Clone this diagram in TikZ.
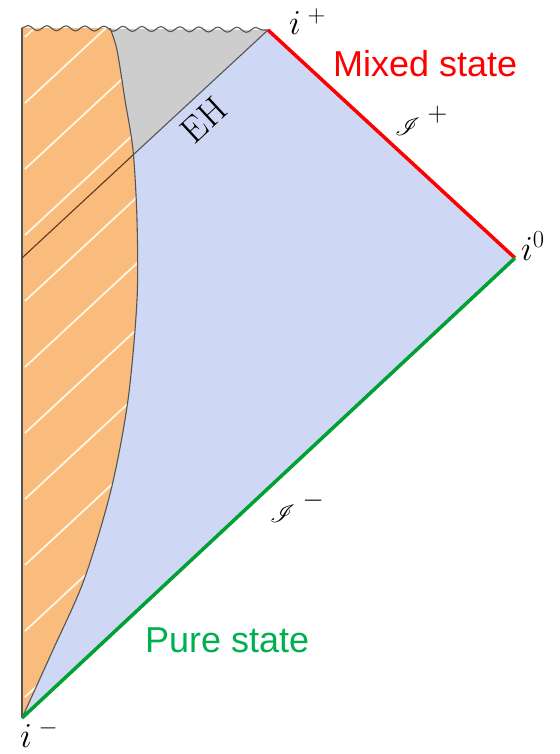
\RequirePackage{fix-cm}
\documentclass[tikz,border=0pt]{standalone}
\usepackage{amsmath,amssymb}
\usepackage{mathrsfs}
\usepackage{fontspec}
\newfontfamily\statefont{Liberation Sans}
\usepackage{tikz}
\usetikzlibrary{positioning,decorations.pathmorphing}

\definecolor{starorange}{RGB}{250,188,124}
\definecolor{holegray}{RGB}{205,205,205}
\definecolor{exteriorblue}{RGB}{206,216,245}
\definecolor{mixedred}{RGB}{255,0,0}
\definecolor{purelinegreen}{RGB}{0,160,50}
\definecolor{puretextgreen}{RGB}{0,176,80}
\definecolor{edgegray}{RGB}{85,85,85}
\definecolor{ehbrown}{RGB}{95,55,30}
\definecolor{hatchwhite}{RGB}{255,246,228}

\begin{document}
\begin{tikzpicture}[x=1pt,y=-1pt]

\tikzstyle{edge}=[draw=edgegray,line width=1.1pt]
\tikzstyle{nullinf}=[line width=3.5pt]
\tikzstyle{hatch}=[draw=hatchwhite,line width=1.8pt]
\tikzstyle{mathlabel}=[inner sep=0pt,anchor=base west,font=\fontsize{35}{42}\selectfont]
\tikzstyle{scrilabel}=[mathlabel,font=\fontsize{39}{46}\selectfont]
\tikzstyle{statelabel}=[inner sep=0pt,anchor=base west,font=\statefont\fontsize{36}{43}\selectfont]

\useasboundingbox (0,0) rectangle (559,754);

\coordinate (topleft) at (22,28);
\coordinate (surface) at (110,28);
\coordinate (iplus) at (268,30);
\coordinate (izero) at (515,258);
\coordinate (iminus) at (22,718);
\coordinate (ehleft) at (22,258);
\coordinate (ehcross) at (133,155);

\fill[exteriorblue] (iminus) -- (izero) -- (iplus) -- (ehleft) -- cycle;
\fill[holegray] (topleft) -- (iplus) -- (ehleft) -- cycle;

\begin{scope}
\clip (topleft) -- (surface) -- plot[smooth] coordinates {(110,28) (117,50) (125,100) (133,150) (137,220) (137,300) (128,400) (111,490) (84,580) (52,652) (22,718)} -- cycle;
\fill[starorange] (0,0) rectangle (300,754);
\foreach \y in {37,103,...,700}
  \draw[hatch] (25,\y) -- ++(300,-278);
\end{scope}

\draw[edge] (topleft) -- (iminus);
\draw[edge] plot[smooth] coordinates {(110,28) (117,50) (125,100) (133,150) (137,220) (137,300) (128,400) (111,490) (84,580) (52,652) (22,718)};
\draw[edge,draw=ehbrown] (ehleft) -- (ehcross);
\draw[edge] (ehcross) -- (iplus);
\draw[edge,decorate,decoration={snake,amplitude=2.5pt,segment length=19pt}] (topleft) -- (iplus);

\draw[nullinf,draw=mixedred] (iplus) -- (izero);
\draw[nullinf,draw=purelinegreen] (izero) -- (iminus);

\node (iplabel) [mathlabel] at (289,35) {$i^{\;+}$};
\node (izlabel) [mathlabel] at (521,260) {$i^{0}$};
\node (imlabel) [mathlabel] at (20,747) {$i^{\;-}$};
\node (scriplus) [scrilabel] at (395,136) {$\mathscr{I}^{\;+}$};
\node (scriminus) [scrilabel] at (270,522) {$\mathscr{I}^{\;-}$};
\node (ehlabel) [inner sep=0pt,rotate=42.8,font=\fontsize{36}{43}\selectfont] at (204,120) {EH};

\node (mixed) [statelabel,text=mixedred] at (333,77) {Mixed state};
\node (pure) [statelabel,text=puretextgreen] at (145,652) {Pure state};

\end{tikzpicture}
\end{document}
